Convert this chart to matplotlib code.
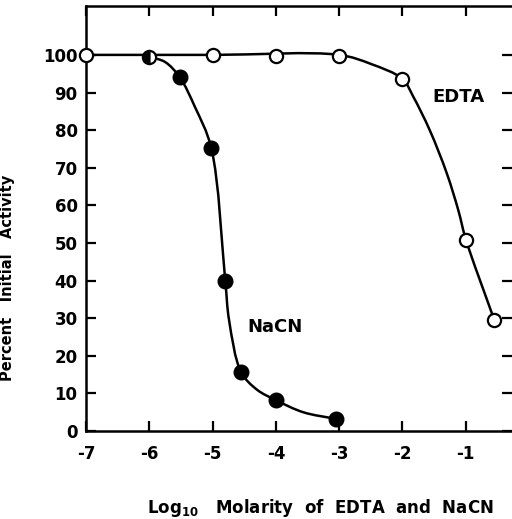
import matplotlib
matplotlib.use("Agg")
import matplotlib.pyplot as plt
import numpy as np
from matplotlib.path import Path
from matplotlib.patches import PathPatch


# -----------------------------
# Data
# -----------------------------

edta_x = [-7, -6, -5, -4, -3, -2, -1, -0.55]
edta_y = [100, 100, 100, 99.7, 99.8, 93.6, 50.8, 29.5]

nacn_x = [-6, -5.52, -5.02, -4.8, -4.55, -4.0, -3.05]
nacn_y = [99.5, 94.1, 75.2, 39.9, 15.7, 8.2, 3.2]

# hand drawn curves
edta_curve_x = [-7, -5, -3, -2.5, -2.0, -1.83, -1.57, -1.3, -1.12, -1.0, -0.55]
edta_curve_y = [100, 100, 100, 97.6, 93.6, 88.9, 80, 68.5, 58.8, 51, 29.5]

nacn_curve_x = [-6, -5.75, -5.52, -5.28, -5.02, -4.8, -4.74, -4.55, -4.3, -4.0, -3.57, -3.05]
nacn_curve_y = [99.5, 98.1, 94.1, 86.2, 75.2, 39.9, 29.5, 15.7, 11, 8.2, 5, 3.2]

xticks = [-7, -6, -5, -4, -3, -2, -1]
xtick_labels = ["-7", "-6", "-5", "-4", "-3", "-2", "-1"]
yticks = [0, 10, 20, 30, 40, 50, 60, 70, 80, 90, 100]


# -----------------------------
# Helper Functions
# -----------------------------

def smoothPath(xs, ys, sx=63.3, sy=3.76):
    # centripetal Catmull-Rom through the traced points -> bezier segments
    # (knot spacing measured in rough pixel units so both axes count)
    pts = np.column_stack([xs, ys]).astype(float)
    scaled = pts * [sx, sy]
    n = len(pts)
    d = np.sqrt(np.linalg.norm(np.diff(scaled, axis=0), axis=1))
    t = np.concatenate([[0], np.cumsum(d)])

    tang = np.zeros_like(pts)
    for i in range(n):
        if i == 0:
            tang[i] = (pts[1] - pts[0]) / (t[1] - t[0])
        elif i == n - 1:
            tang[i] = (pts[-1] - pts[-2]) / (t[-1] - t[-2])
        else:
            tang[i] = ((pts[i] - pts[i - 1]) / (t[i] - t[i - 1])
                       - (pts[i + 1] - pts[i - 1]) / (t[i + 1] - t[i - 1])
                       + (pts[i + 1] - pts[i]) / (t[i + 1] - t[i]))

    verts = [pts[0]]
    codes = [Path.MOVETO]
    for i in range(n - 1):
        h = t[i + 1] - t[i]
        verts += [pts[i] + tang[i] * h / 3, pts[i + 1] - tang[i + 1] * h / 3, pts[i + 1]]
        codes += [Path.CURVE4] * 3
    return Path(verts, codes)


# -----------------------------
# Plot
# -----------------------------

fig = plt.figure(figsize=(5.12, 5.19), dpi=100)
ax = fig.add_axes([86 / 512, 1 - 431 / 519, (512 - 86) / 512, (431 - 6) / 519])

lw = 1.8
ax.add_patch(PathPatch(smoothPath(edta_curve_x, edta_curve_y), fill=False,
                       lw=lw, color="black", zorder=2))
ax.add_patch(PathPatch(smoothPath(nacn_curve_x, nacn_curve_y), fill=False,
                       lw=lw, color="black", zorder=2))

# EDTA open circles (skip -6, drawn half filled below)
ax.plot([x for x in edta_x if x != -6], [y for x, y in zip(edta_x, edta_y) if x != -6],
        "o", ms=9.5, mfc="white", mec="black", mew=1.6, zorder=3, clip_on=False)

# NaCN filled circles
ax.plot(nacn_x[1:], nacn_y[1:], "o", ms=10.5, mfc="black", mec="black", zorder=3)

# shared point at -6, half filled
ax.plot(nacn_x[0], nacn_y[0], "o", ms=9.5, fillstyle="left", mfc="black",
        markerfacecoloralt="white", mec="black", mew=1.6, zorder=4)

ax.text(-1.12, 88.8, "EDTA", fontsize=13, fontweight="bold", ha="center", va="center")
ax.text(-4.01, 27.7, "NaCN", fontsize=13, fontweight="bold", ha="center", va="center")

ax.set_xlim(-7, -0.27)
ax.set_ylim(0, 113)
ax.set_xticks(xticks)
ax.set_xticklabels(xtick_labels)
ax.set_yticks(yticks)

ax.tick_params(axis="x", direction="in", length=7, width=1.6, top=True,
               labelsize=12, pad=10)
ax.tick_params(axis="y", direction="in", length=7, width=1.6, right=True,
               labelsize=12, pad=6)
for lab in ax.get_xticklabels() + ax.get_yticklabels():
    lab.set_fontweight("bold")

for side in ["left", "bottom", "top"]:
    ax.spines[side].set_linewidth(1.8)
ax.spines["right"].set_visible(False)

ax.set_ylabel("Percent   Initial   Activity", fontsize=10.5, fontweight="bold")
ax.yaxis.set_label_coords((15 - 86) / 426, (431 - 278) / 425)
ax.set_xlabel(r"Log$_{\mathbf{10}}$   Molarity  of  EDTA  and  NaCN", fontsize=12,
              fontweight="bold")
ax.xaxis.set_label_coords((320 - 86) / 426, -(497 - 431) / 425)

fig.savefig("out.png", dpi=100)
